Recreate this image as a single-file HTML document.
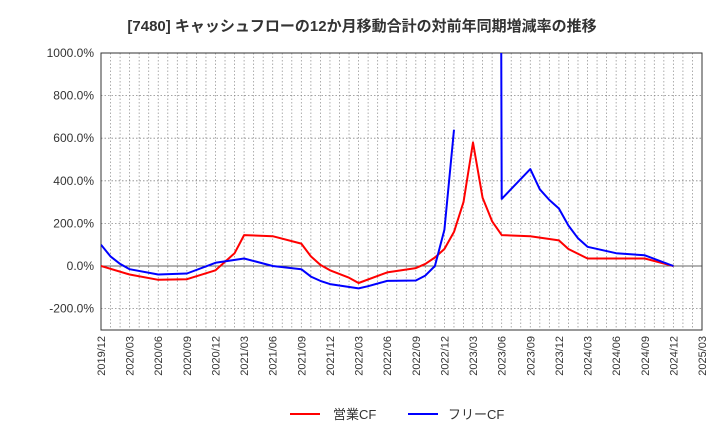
<!DOCTYPE html>
<html><head><meta charset="utf-8"><style>
body{margin:0;background:#fff;}
svg text{font-family:"Liberation Sans","Noto Sans CJK JP",sans-serif;}
</style></head><body>
<svg id="chart" width="720" height="440" xmlns="http://www.w3.org/2000/svg">
<text x="362" y="31" text-anchor="middle" font-size="15" font-weight="bold" fill="#333">[7480]  キャッシュフローの12か月移動合計の対前年同期増減率の推移</text>
<g id="grid"></g>
<g id="axes"></g>
<defs><clipPath id="clip"><rect x="101" y="53" width="601" height="277"/></clipPath></defs>
<g id="series" clip-path="url(#clip)"></g>
<g>
<line x1="290" y1="414" x2="320" y2="414" stroke="#f00" stroke-width="2"/>
<text x="333" y="419" font-size="13" fill="#333">営業CF</text>
<line x1="408" y1="414" x2="438" y2="414" stroke="#00f" stroke-width="2"/>
<text x="448" y="419" font-size="13" fill="#333">フリーCF</text>
</g>
</svg>
<script>
const xTickLabels=["2019/12","2020/03","2020/06","2020/09","2020/12","2021/03","2021/06","2021/09","2021/12","2022/03","2022/06","2022/09","2022/12","2023/03","2023/06","2023/09","2023/12","2024/03","2024/06","2024/09","2024/12","2025/03"];
const yTicks=[-200,0,200,400,600,800,1000];
const opMonths=[0,3,6,9,12,14,15,18,21,22,23,24,26,27,30,33,34,35,36,37,38,39,40,41,42,45,48,49,51,57,60];
const opValues=[0,-40,-65,-62,-20,60,145,140,105,45,5,-20,-55,-80,-30,-10,10,40,80,160,300,580,320,210,145,140,120,80,35,35,0];
const fcfMonths=[0,1,2,3,6,9,12,15,18,21,22,23,24,27,28,30,33,34,35,36,37,null,41,42,45,46,47,48,49,50,51,54,57,60];
const fcfValues=[100,45,10,-15,-40,-35,15,35,0,-15,-50,-70,-85,-105,-95,-70,-68,-45,0,170,640,null,15000,315,455,360,310,270,190,130,90,60,50,0];
const X0=101,X1=702,Y0=53,Y1=330;
const xs=m=>X0+m*(X1-X0)/63;
const ys=v=>266-v*(266-53)/1000;
const NS="http://www.w3.org/2000/svg";
const grid=document.getElementById('grid'),axes=document.getElementById('axes'),series=document.getElementById('series');
function mk(tag,attrs,parent){const e=document.createElementNS(NS,tag);for(const k in attrs)e.setAttribute(k,attrs[k]);parent.appendChild(e);return e;}
for(let m=1;m<63;m++){const l=mk('line',{x1:xs(m),x2:xs(m),y1:Y0,y2:Y1,stroke:'#999','stroke-width':0.8,'stroke-dasharray':'1.5,2'},grid);

}
yTicks.forEach(v=>{const y=ys(v);
if(v!==0){const l=mk('line',{x1:X0,x2:X1,y1:y,y2:y,stroke:'#888','stroke-width':0.8,'stroke-dasharray':'1.5,2'},grid);

}
const t=mk('text',{x:94,y:y+4,'text-anchor':'end','font-size':12,fill:'#333'},axes);t.textContent=v.toFixed(1)+'%';

});
const z=mk('line',{x1:X0,x2:X1,y1:ys(0),y2:ys(0),stroke:'#666','stroke-width':1},grid);


const fr=mk('rect',{x:X0,y:Y0,width:X1-X0,height:Y1-Y0,fill:'none',stroke:'#333','stroke-width':1},axes);


xTickLabels.forEach((s,i)=>{const x=xs(i*3);const t=mk('text',{x:0,y:0,'text-anchor':'end','font-size':11,fill:'#333',transform:`translate(${x+4},${Y1+6}) rotate(-90)`},axes);t.textContent=s;

});
function path(ms,vs){let d='',pen=false;ms.forEach((m,i)=>{const v=vs[i];if(m===null||v===null){pen=false;return;}d+=(pen?'L':'M')+xs(m).toFixed(1)+','+ys(v).toFixed(1);pen=true;});return d;}
const p1=mk('path',{d:path(opMonths,opValues),fill:'none',stroke:'#f00','stroke-width':2,'stroke-linejoin':'round'},series);


const p2=mk('path',{d:path(fcfMonths,fcfValues),fill:'none',stroke:'#00f','stroke-width':2,'stroke-linejoin':'round'},series);


</script>
</body></html>
